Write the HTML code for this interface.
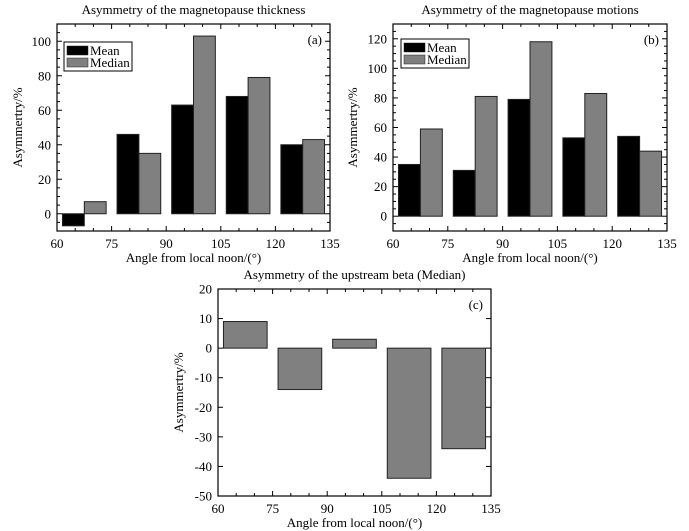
<!DOCTYPE html>
<html><head><meta charset="utf-8">
<style>
body{margin:0;background:#fff;}
svg{display:block;font-family:"Liberation Serif",serif;}
</style></head>
<body>
<svg id="s" width="689" height="531" viewBox="0 0 689 531"></svg>
<script>
const categories=[67.5,82.5,97.5,112.5,127.5];
const meanA=[-7,46,63,68,40];
const medianA=[7,35,103,79,43];
const meanB=[35,31,79,53,54];
const medianB=[59,81,118,83,44];
const medianC=[9,-14,3,-44,-34];
const xTicks=[60,75,90,105,120,135];
const yTicksA=[0,20,40,60,80,100];
const yTicksB=[0,20,40,60,80,100,120];
const yTicksC=[20,10,0,-10,-20,-30,-40,-50];

const S=document.getElementById('s');
const NS='http://www.w3.org/2000/svg';
function mk(tag,attrs,parent){const e=document.createElementNS(NS,tag);for(const k in attrs)e.setAttribute(k,attrs[k]);(parent||S).appendChild(e);return e;}
function txt(str,attrs,parent){const e=mk('text',attrs,parent);e.textContent=str;return e;}

function panel(cfg){
  const g=mk('g',{});
  
  
  const X=v=>cfg.x0+(v-60)/75*(cfg.x1-cfg.x0);
  const Y=v=>cfg.y1-(v-cfg.ymin)/(cfg.ymax-cfg.ymin)*(cfg.y1-cfg.y0);
  // bars
  const bw=6;
  categories.forEach((c,i)=>{
    cfg.series.forEach((s,j)=>{
      let xs,xe;
      if(cfg.series.length===2){xs=j===0?c-bw:c;xe=xs+bw;}else{xs=c-bw;xe=c+bw;}
      const v=s.vals[i];
      const r=mk('rect',{x:X(xs),y:Math.min(Y(v),Y(0)),width:X(xe)-X(xs),height:Math.abs(Y(v)-Y(0)),fill:s.color,stroke:'#222','stroke-width':1},g);
      
      
    });
  });
  // frame
  const f=mk('rect',{x:cfg.x0,y:cfg.y0,width:cfg.x1-cfg.x0,height:cfg.y1-cfg.y0,fill:'none',stroke:'#000','stroke-width':1.2},g);
  
  
  // x ticks
  for(let v=60;v<=135;v+=5){
    const major=(v%15===0);const L=major?5:3;
    mk('line',{x1:X(v),x2:X(v),y1:cfg.y1,y2:cfg.y1-L,stroke:'#000'},g);
    mk('line',{x1:X(v),x2:X(v),y1:cfg.y0,y2:cfg.y0+L,stroke:'#000'},g);
  }
  xTicks.forEach(v=>{const t=txt(v,{x:X(v),y:cfg.y1+17,'font-size':13,'text-anchor':'middle'},g);
    });
  // y ticks
  for(let v=cfg.ymin;v<=cfg.ymax;v+=cfg.minor){
    const major=(v%cfg.major===0);const L=major?5:3;
    mk('line',{x1:cfg.x0,x2:cfg.x0+L,y1:Y(v),y2:Y(v),stroke:'#000'},g);
    mk('line',{x1:cfg.x1,x2:cfg.x1-L,y1:Y(v),y2:Y(v),stroke:'#000'},g);
  }
  cfg.yTicks.forEach(v=>{const t=txt(v,{x:cfg.x0-6,y:Y(v)+4.5,'font-size':13,'text-anchor':'end'},g);
    });
  const tt=txt(cfg.title,{x:(cfg.x0+cfg.x1)/2,y:cfg.y0-10,'font-size':13,'text-anchor':'middle'},g);
  
  const xl=txt('Angle from local noon/(°)',{x:(cfg.x0+cfg.x1)/2,y:cfg.y1+31,'font-size':13,'text-anchor':'middle'},g);
  
  const yl=txt('Asymmertry/%',{x:0,y:0,'font-size':13,'text-anchor':'middle',transform:`translate(${cfg.ylx},${(cfg.y0+cfg.y1)/2}) rotate(-90)`},g);
  
  const pl=txt(cfg.label,{x:cfg.x1-8,y:cfg.y0+20,'font-size':13,'text-anchor':'end'},g);
  
  if(cfg.legend){
    const lg=mk('g',{},g);
    
    const lx=cfg.legend[0],ly=cfg.legend[1];
    mk('rect',{x:lx,y:ly,width:68,height:29,fill:'#fff',stroke:'#000'},lg);
    cfg.series.forEach((s,j)=>{
      const e=mk('g',{},lg);
      
      mk('rect',{x:lx+3,y:ly+4+j*12,width:21,height:9,fill:s.color,stroke:'#222','stroke-width':0.5},e);
      txt(s.label,{x:lx+26,y:ly+13+j*12,'font-size':13},e);
    });
  }
}
panel({name:'chart-a',x0:57,x1:330,y0:24,y1:231,ymin:-10,ymax:110,major:20,minor:5,yTicks:yTicksA,
  title:'Asymmetry of the magnetopause thickness',label:'(a)',ylx:22,legend:[64,42],
  series:[{key:'mean',label:'Mean',vals:meanA,color:'#000'},{key:'median',label:'Median',vals:medianA,color:'#808080'}]});
panel({name:'chart-b',x0:393,x1:667,y0:24,y1:231,ymin:-10,ymax:130,major:20,minor:5,yTicks:yTicksB,
  title:'Asymmetry of the magnetopause motions',label:'(b)',ylx:357,legend:[401,39],
  series:[{key:'mean',label:'Mean',vals:meanB,color:'#000'},{key:'median',label:'Median',vals:medianB,color:'#808080'}]});
panel({name:'chart-c',x0:218,x1:491,y0:289,y1:496,ymin:-50,ymax:20,major:10,minor:10,yTicks:yTicksC,
  title:'Asymmetry of the upstream beta (Median)',label:'(c)',ylx:183,
  series:[{key:'median',label:'Median',vals:medianC,color:'#808080'}]});
</script>
</body></html>
